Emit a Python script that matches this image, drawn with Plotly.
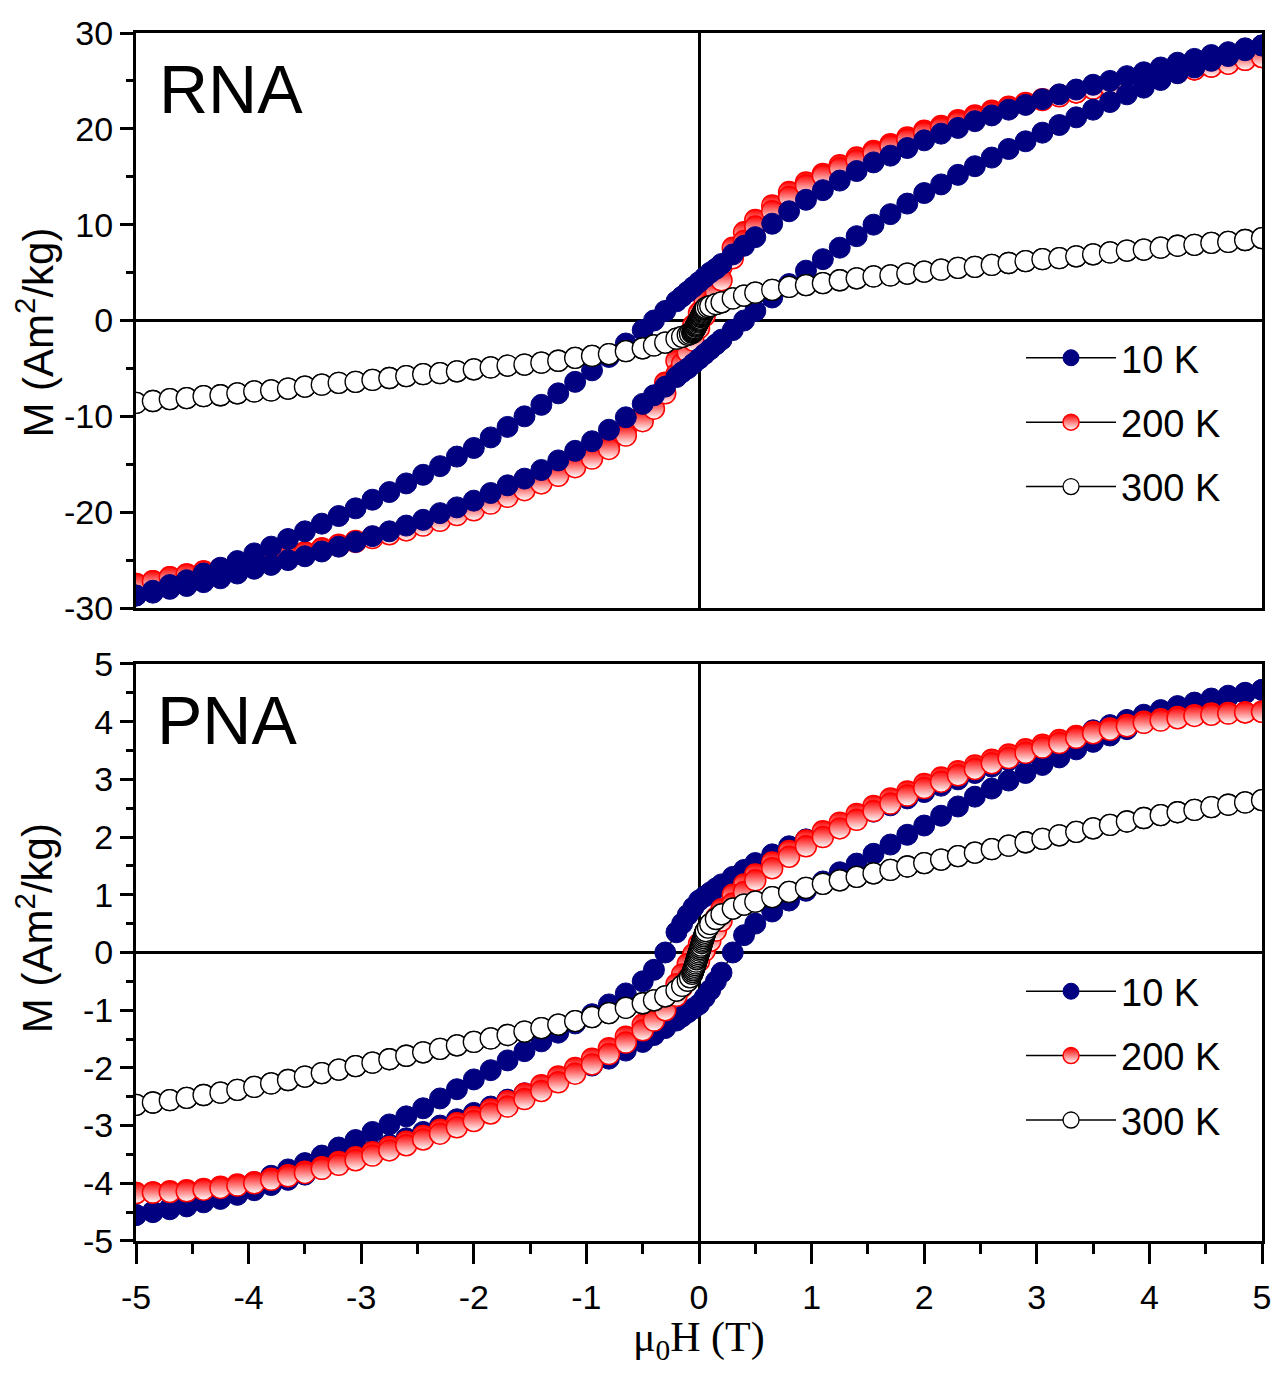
import plotly.graph_objects as go

# ---------------- data ----------------
H_DOWN = [5.0, 4.85, 4.7, 4.55, 4.4, 4.25, 4.1, 3.95, 3.8, 3.65, 3.5, 3.35, 3.2, 3.05, 2.9, 2.75, 2.6, 2.45, 2.3, 2.15,
          2.0, 1.85, 1.7, 1.55, 1.4, 1.25, 1.1, 0.95, 0.8, 0.65, 0.5, 0.4, 0.3, 0.2, 0.15, 0.1, 0.05, 0.0,
          -0.05, -0.1, -0.15, -0.2, -0.3, -0.4, -0.5, -0.65, -0.8, -0.95, -1.1, -1.25, -1.4, -1.55, -1.7, -1.85,
          -2.0, -2.15, -2.3, -2.45, -2.6, -2.75, -2.9, -3.05, -3.2, -3.35, -3.5, -3.65, -3.8, -3.95, -4.1, -4.25,
          -4.4, -4.55, -4.7, -4.85, -5.0]
H_UP = [-5.0, -4.85, -4.7, -4.55, -4.4, -4.25, -4.1, -3.95, -3.8, -3.65, -3.5, -3.35, -3.2, -3.05, -2.9, -2.75, -2.6,
        -2.45, -2.3, -2.15, -2.0, -1.85, -1.7, -1.55, -1.4, -1.25, -1.1, -0.95, -0.8, -0.65, -0.5, -0.4, -0.3, -0.2,
        -0.15, -0.1, -0.05, 0.0, 0.05, 0.1, 0.15, 0.2, 0.3, 0.4, 0.5, 0.65, 0.8, 0.95, 1.1, 1.25, 1.4, 1.55, 1.7,
        1.85, 2.0, 2.15, 2.3, 2.45, 2.6, 2.75, 2.9, 3.05, 3.2, 3.35, 3.5, 3.65, 3.8, 3.95, 4.1, 4.25, 4.4, 4.55,
        4.7, 4.85, 5.0]
# 300 K runs have dense low-field points
H300_DOWN = [5.0, 4.85, 4.7, 4.55, 4.4, 4.25, 4.1, 3.95, 3.8, 3.65, 3.5, 3.35, 3.2, 3.05, 2.9, 2.75, 2.6, 2.45, 2.3,
             2.15, 2.0, 1.85, 1.7, 1.55, 1.4, 1.25, 1.1, 0.95, 0.8, 0.65, 0.5, 0.4, 0.3, 0.2, 0.15, 0.1, 0.08, 0.06,
             0.055, 0.05, 0.045, 0.04, 0.035, 0.03, 0.025, 0.02, 0.015, 0.01, 0.005, 0.0, -0.005, -0.01, -0.015,
             -0.02, -0.025, -0.03, -0.035, -0.04, -0.045, -0.05, -0.055, -0.06, -0.08, -0.1, -0.15, -0.2, -0.3,
             -0.4, -0.5, -0.65, -0.8, -0.95, -1.1, -1.25, -1.4, -1.55, -1.7, -1.85, -2.0, -2.15, -2.3, -2.45, -2.6,
             -2.75, -2.9, -3.05, -3.2, -3.35, -3.5, -3.65, -3.8, -3.95, -4.1, -4.25, -4.4, -4.55, -4.7, -4.85, -5.0]
H300_UP = [-5.0, -4.85, -4.7, -4.55, -4.4, -4.25, -4.1, -3.95, -3.8, -3.65, -3.5, -3.35, -3.2, -3.05, -2.9, -2.75,
           -2.6, -2.45, -2.3, -2.15, -2.0, -1.85, -1.7, -1.55, -1.4, -1.25, -1.1, -0.95, -0.8, -0.65, -0.5, -0.4,
           -0.3, -0.2, -0.15, -0.1, -0.08, -0.06, -0.055, -0.05, -0.045, -0.04, -0.035, -0.03, -0.025, -0.02,
           -0.015, -0.01, -0.005, 0.0, 0.005, 0.01, 0.015, 0.02, 0.025, 0.03, 0.035, 0.04, 0.045, 0.05, 0.055,
           0.06, 0.08, 0.1, 0.15, 0.2, 0.3, 0.4, 0.5, 0.65, 0.8, 0.95, 1.1, 1.25, 1.4, 1.55, 1.7, 1.85, 2.0, 2.15,
           2.3, 2.45, 2.6, 2.75, 2.9, 3.05, 3.2, 3.35, 3.5, 3.65, 3.8, 3.95, 4.1, 4.25, 4.4, 4.55, 4.7, 4.85, 5.0]

# RNA sample
RNA_10K_DOWN = [28.7, 28.4, 28.0, 27.7, 27.3, 26.9, 26.4, 25.9, 25.5, 25.0, 24.6, 24.1, 23.6, 23.1, 22.5, 22.0, 21.4,
                20.8, 20.1, 19.5, 18.8, 18.0, 17.2, 16.5, 15.6, 14.6, 13.6, 12.6, 11.4, 10.1, 8.7, 7.8, 6.9, 5.9, 5.4,
                5.0, 4.5, 4.0, 3.5, 3.0, 2.5, 2.0, 1.0, 0.0, -1.0, -2.4, -3.8, -5.2, -6.4, -7.6, -8.8, -10.0, -11.1,
                -12.2, -13.3, -14.2, -15.2, -16.1, -17.0, -17.9, -18.7, -19.6, -20.4, -21.2, -22.0, -22.8, -23.6,
                -24.3, -25.1, -25.8, -26.4, -27.1, -27.6, -28.2, -28.7]
RNA_10K_UP = [-28.7, -28.4, -28.0, -27.7, -27.3, -26.9, -26.4, -25.9, -25.5, -25.0, -24.6, -24.1, -23.6, -23.1, -22.5,
              -22.0, -21.4, -20.8, -20.1, -19.5, -18.8, -18.0, -17.2, -16.5, -15.6, -14.6, -13.6, -12.6, -11.4, -10.1,
              -8.7, -7.8, -6.9, -5.9, -5.4, -5.0, -4.5, -4.0, -3.5, -3.0, -2.5, -2.0, -1.0, 0.0, 1.0, 2.4, 3.8, 5.2,
              6.4, 7.6, 8.8, 10.0, 11.1, 12.2, 13.3, 14.2, 15.2, 16.1, 17.0, 17.9, 18.7, 19.6, 20.4, 21.2, 22.0, 22.8,
              23.6, 24.3, 25.1, 25.8, 26.4, 27.1, 27.6, 28.2, 28.7]
RNA_200K_DOWN = [27.5, 27.2, 26.8, 26.5, 26.2, 25.9, 25.5, 25.2, 24.9, 24.5, 24.2, 23.8, 23.5, 23.1, 22.7, 22.3, 21.9,
                 21.4, 20.9, 20.3, 19.8, 19.1, 18.4, 17.7, 17.0, 16.2, 15.3, 14.4, 13.4, 12.0, 10.5, 9.2, 7.6, 5.6, 4.5,
                 3.3, 2.1, 0.8, -0.5, -1.7, -3.0, -4.2, -6.5, -8.3, -9.8, -11.4, -12.9, -14.1, -15.1, -15.9, -16.7,
                 -17.5, -18.2, -18.9, -19.6, -20.1, -20.7, -21.2, -21.7, -22.2, -22.6, -23.0, -23.4, -23.8, -24.2,
                 -24.5, -24.9, -25.2, -25.5, -25.9, -26.2, -26.5, -26.8, -27.2, -27.5]
RNA_200K_UP = [-27.5, -27.2, -26.8, -26.5, -26.2, -25.9, -25.5, -25.2, -24.9, -24.5, -24.2, -23.8, -23.5, -23.1, -22.7,
               -22.3, -21.9, -21.4, -20.9, -20.3, -19.8, -19.1, -18.4, -17.7, -17.0, -16.2, -15.3, -14.4, -13.4, -12.0,
               -10.5, -9.2, -7.6, -5.6, -4.5, -3.3, -2.1, -0.8, 0.5, 1.7, 3.0, 4.2, 6.5, 8.3, 9.8, 11.4, 12.9, 14.1,
               15.1, 15.9, 16.7, 17.5, 18.2, 18.9, 19.6, 20.1, 20.7, 21.2, 21.7, 22.2, 22.6, 23.0, 23.4, 23.8, 24.2,
               24.5, 24.9, 25.2, 25.5, 25.9, 26.2, 26.5, 26.8, 27.2, 27.5]
RNA_300K_DOWN = [8.6, 8.4, 8.2, 8.1, 7.9, 7.8, 7.6, 7.4, 7.3, 7.1, 6.9, 6.7, 6.5, 6.4, 6.2, 6.0, 5.8, 5.6, 5.5, 5.3,
                 5.1, 4.9, 4.7, 4.6, 4.4, 4.2, 3.9, 3.7, 3.5, 3.2, 2.9, 2.6, 2.3, 1.9, 1.7, 1.5, 1.4, 1.3, 1.2, 1.1,
                 1.0, 0.9, 0.8, 0.65, 0.55, 0.45, 0.35, 0.2, 0.1, 0.0, -0.1, -0.2, -0.35, -0.45, -0.55, -0.65, -0.8,
                 -0.9, -1.0, -1.1, -1.2, -1.3, -1.4, -1.5, -1.7, -1.9, -2.3, -2.6, -2.9, -3.2, -3.5, -3.7, -3.9, -4.2,
                 -4.4, -4.6, -4.7, -4.9, -5.1, -5.3, -5.5, -5.6, -5.8, -6.0, -6.2, -6.4, -6.5, -6.7, -6.9, -7.1, -7.3,
                 -7.4, -7.6, -7.8, -7.9, -8.1, -8.2, -8.4, -8.6]
RNA_300K_UP = [-8.6, -8.4, -8.2, -8.1, -7.9, -7.8, -7.6, -7.4, -7.3, -7.1, -6.9, -6.7, -6.5, -6.4, -6.2, -6.0, -5.8,
               -5.6, -5.5, -5.3, -5.1, -4.9, -4.7, -4.6, -4.4, -4.2, -3.9, -3.7, -3.5, -3.2, -2.9, -2.6, -2.3, -1.9,
               -1.7, -1.5, -1.4, -1.3, -1.2, -1.1, -1.0, -0.9, -0.8, -0.65, -0.55, -0.45, -0.35, -0.2, -0.1, 0.0, 0.1,
               0.2, 0.35, 0.45, 0.55, 0.65, 0.8, 0.9, 1.0, 1.1, 1.2, 1.3, 1.4, 1.5, 1.7, 1.9, 2.3, 2.6, 2.9, 3.2, 3.5,
               3.7, 3.9, 4.2, 4.4, 4.6, 4.7, 4.9, 5.1, 5.3, 5.5, 5.6, 5.8, 6.0, 6.2, 6.4, 6.5, 6.7, 6.9, 7.1, 7.3, 7.4,
               7.6, 7.8, 7.9, 8.1, 8.2, 8.4, 8.6]

# PNA sample
PNA_10K_DOWN = [4.55, 4.50, 4.45, 4.40, 4.33, 4.27, 4.20, 4.12, 4.03, 3.94, 3.85, 3.75, 3.64, 3.54, 3.43, 3.33, 3.22,
                3.11, 3.00, 2.89, 2.78, 2.67, 2.55, 2.44, 2.32, 2.20, 2.08, 1.96, 1.84, 1.70, 1.55, 1.43, 1.31, 1.18,
                1.11, 1.04, 0.97, 0.90, 0.78, 0.65, 0.50, 0.35, 0.00, -0.30, -0.50, -0.71, -0.90, -1.07, -1.23, -1.39,
                -1.54, -1.71, -1.87, -2.04, -2.20, -2.37, -2.53, -2.70, -2.84, -2.98, -3.11, -3.25, -3.38, -3.52,
                -3.65, -3.76, -3.87, -3.98, -4.09, -4.19, -4.28, -4.37, -4.43, -4.49, -4.55]
PNA_10K_UP = [-4.55, -4.50, -4.45, -4.40, -4.33, -4.27, -4.20, -4.12, -4.03, -3.94, -3.85, -3.75, -3.64, -3.54, -3.43,
              -3.33, -3.22, -3.11, -3.00, -2.89, -2.78, -2.67, -2.55, -2.44, -2.32, -2.20, -2.08, -1.96, -1.84, -1.70,
              -1.55, -1.43, -1.31, -1.18, -1.11, -1.04, -0.97, -0.90, -0.78, -0.65, -0.50, -0.35, 0.00, 0.30, 0.50,
              0.71, 0.90, 1.07, 1.23, 1.39, 1.54, 1.71, 1.87, 2.04, 2.20, 2.37, 2.53, 2.70, 2.84, 2.98, 3.11, 3.25,
              3.38, 3.52, 3.65, 3.76, 3.87, 3.98, 4.09, 4.19, 4.28, 4.37, 4.43, 4.49, 4.55]
PNA_200K_DOWN = [4.17, 4.16, 4.15, 4.14, 4.11, 4.08, 4.04, 4.00, 3.94, 3.88, 3.82, 3.75, 3.68, 3.60, 3.52, 3.43, 3.34,
                 3.24, 3.14, 3.03, 2.92, 2.79, 2.67, 2.54, 2.40, 2.25, 2.10, 1.94, 1.76, 1.56, 1.35, 1.18, 1.00, 0.75,
                 0.60, 0.45, 0.30, 0.15, -0.03, -0.20, -0.38, -0.55, -0.85, -1.05, -1.25, -1.46, -1.66, -1.84, -2.00,
                 -2.15, -2.30, -2.45, -2.58, -2.72, -2.85, -2.96, -3.07, -3.18, -3.28, -3.37, -3.46, -3.55, -3.63,
                 -3.72, -3.80, -3.86, -3.92, -3.98, -4.02, -4.06, -4.10, -4.12, -4.14, -4.16, -4.17]
PNA_200K_UP = [-4.17, -4.16, -4.15, -4.14, -4.11, -4.08, -4.04, -4.00, -3.94, -3.88, -3.82, -3.75, -3.68, -3.60, -3.52,
               -3.43, -3.34, -3.24, -3.14, -3.03, -2.92, -2.79, -2.67, -2.54, -2.40, -2.25, -2.10, -1.94, -1.76, -1.56,
               -1.35, -1.18, -1.00, -0.75, -0.60, -0.45, -0.30, -0.15, 0.03, 0.20, 0.38, 0.55, 0.85, 1.05, 1.25, 1.46,
               1.66, 1.84, 2.00, 2.15, 2.30, 2.45, 2.58, 2.72, 2.85, 2.96, 3.07, 3.18, 3.28, 3.37, 3.46, 3.55, 3.63,
               3.72, 3.80, 3.86, 3.92, 3.98, 4.02, 4.06, 4.10, 4.12, 4.14, 4.16, 4.17]
PNA_300K_DOWN = [2.64, 2.60, 2.56, 2.52, 2.47, 2.43, 2.38, 2.33, 2.27, 2.21, 2.15, 2.09, 2.03, 1.97, 1.91, 1.85, 1.79,
                 1.73, 1.67, 1.61, 1.55, 1.49, 1.43, 1.37, 1.31, 1.25, 1.19, 1.12, 1.05, 0.96, 0.88, 0.83, 0.76, 0.66,
                 0.58, 0.49, 0.43, 0.37, 0.34, 0.31, 0.28, 0.25, 0.22, 0.19, 0.16, 0.12, 0.09, 0.06, 0.03, 0.00,
                 -0.03, -0.06, -0.09, -0.12, -0.16, -0.19, -0.22, -0.25, -0.28, -0.31, -0.34, -0.37, -0.43, -0.49,
                 -0.58, -0.66, -0.76, -0.83, -0.88, -0.96, -1.05, -1.12, -1.19, -1.25, -1.31, -1.37, -1.43, -1.49,
                 -1.55, -1.61, -1.67, -1.73, -1.79, -1.85, -1.91, -1.97, -2.03, -2.09, -2.15, -2.21, -2.27, -2.33,
                 -2.38, -2.43, -2.47, -2.52, -2.56, -2.60, -2.64]
PNA_300K_UP = [-2.64, -2.60, -2.56, -2.52, -2.47, -2.43, -2.38, -2.33, -2.27, -2.21, -2.15, -2.09, -2.03, -1.97, -1.91,
               -1.85, -1.79, -1.73, -1.67, -1.61, -1.55, -1.49, -1.43, -1.37, -1.31, -1.25, -1.19, -1.12, -1.05, -0.96,
               -0.88, -0.83, -0.76, -0.66, -0.58, -0.49, -0.43, -0.37, -0.34, -0.31, -0.28, -0.25, -0.22, -0.19,
               -0.16, -0.12, -0.09, -0.06, -0.03, 0.00, 0.03, 0.06, 0.09, 0.12, 0.16, 0.19, 0.22, 0.25, 0.28, 0.31,
               0.34, 0.37, 0.43, 0.49, 0.58, 0.66, 0.76, 0.83, 0.88, 0.96, 1.05, 1.12, 1.19, 1.25, 1.31, 1.37, 1.43,
               1.49, 1.55, 1.61, 1.67, 1.73, 1.79, 1.85, 1.91, 1.97, 2.03, 2.09, 2.15, 2.21, 2.27, 2.33, 2.38, 2.43,
               2.47, 2.52, 2.56, 2.60, 2.64]

SERIES_NAMES = ["10 K", "200 K", "300 K"]
X_TICKS = [-5, -4, -3, -2, -1, 0, 1, 2, 3, 4, 5]
X_TICKTEXT = ["-5", "-4", "-3", "-2", "-1", "0", "1", "2", "3", "4", "5"]
Y_TOP_TICKS = [-30, -20, -10, 0, 10, 20, 30]
Y_TOP_TICKTEXT = ["-30", "-20", "-10", "0", "10", "20", "30"]
Y_BOT_TICKS = [-5, -4, -3, -2, -1, 0, 1, 2, 3, 4, 5]
Y_BOT_TICKTEXT = ["-5", "-4", "-3", "-2", "-1", "0", "1", "2", "3", "4", "5"]

# ---------------- styling ----------------
NAVY = "#000080"
RED = "#ff0000"
SANS = "Liberation Sans, Arial, sans-serif"
SERIF = "Liberation Serif, Times New Roman, serif"
MS = 21

STYLES = {
    "10 K": dict(color=NAVY, size=MS, line=dict(color=NAVY, width=1)),
    "200 K": dict(color=RED, size=MS, line=dict(color=RED, width=1.5),
                  gradient=dict(type="vertical", color="white")),
    "300 K": dict(color="white", size=MS, line=dict(color="black", width=1.3)),
}
RANK = {"10 K": 1, "200 K": 2, "300 K": 3}

fig = go.Figure()


def add_loop(name, h_down, m_down, h_up, m_up, xa, ya, legend):
    fig.add_trace(go.Scatter(
        x=h_down + h_up, y=m_down + m_up, name=name, mode="lines+markers",
        line=dict(color="black", width=1.5), marker=STYLES[name],
        xaxis=xa, yaxis=ya, legend=legend, legendrank=RANK[name],
        legendgroup=legend + name,
    ))


# top panel (RNA)
add_loop("200 K", H_DOWN, RNA_200K_DOWN, H_UP, RNA_200K_UP, "x2", "y2", "legend")
add_loop("10 K", H_DOWN, RNA_10K_DOWN, H_UP, RNA_10K_UP, "x2", "y2", "legend")
add_loop("300 K", H300_DOWN, RNA_300K_DOWN, H300_UP, RNA_300K_UP, "x2", "y2", "legend")
# bottom panel (PNA)
add_loop("10 K", H_DOWN, PNA_10K_DOWN, H_UP, PNA_10K_UP, "x", "y", "legend2")
add_loop("200 K", H_DOWN, PNA_200K_DOWN, H_UP, PNA_200K_UP, "x", "y", "legend2")
add_loop("300 K", H300_DOWN, PNA_300K_DOWN, H300_UP, PNA_300K_UP, "x", "y", "legend2")

AX = dict(showline=True, linecolor="black", linewidth=3, mirror=True, showgrid=False, automargin=False,
          zeroline=True, zerolinecolor="black", zerolinewidth=2.5,
          tickcolor="black", tickwidth=2.5,
          tickfont=dict(family=SANS, size=34, color="black"))

top_dom = [0.524, 1.0]
bot_dom = [0.0, 0.4777]
LEGEND_FONT = dict(family=SANS, size=38, color="black")

fig.update_layout(
    width=1274, height=1373,
    margin=dict(l=136, r=12, t=33, b=132, autoexpand=False),
    paper_bgcolor="white", plot_bgcolor="white",
    xaxis=dict(AX, range=[-5, 5], anchor="y", domain=[0, 1], ticks="outside", ticklen=20,
               tickmode="array", tickvals=X_TICKS, ticktext=X_TICKTEXT, ticklabelstandoff=4,
               minor=dict(ticks="outside", ticklen=10, tick0=0, dtick=0.5, tickcolor="black", tickwidth=2.5)),
    yaxis=dict(AX, range=[-5, 5], anchor="x", domain=bot_dom, ticks="outside", ticklen=13,
               tickmode="array", tickvals=Y_BOT_TICKS, ticktext=Y_BOT_TICKTEXT,
               minor=dict(ticks="outside", ticklen=7, tick0=0, dtick=0.5, tickcolor="black", tickwidth=2.5)),
    xaxis2=dict(AX, range=[-5, 5], anchor="y2", domain=[0, 1], ticks="", showticklabels=False),
    yaxis2=dict(AX, range=[-30, 30], anchor="x2", domain=top_dom, ticks="outside", ticklen=13,
                tickmode="array", tickvals=Y_TOP_TICKS, ticktext=Y_TOP_TICKTEXT,
                minor=dict(ticks="outside", ticklen=7, tick0=0, dtick=5, tickcolor="black", tickwidth=2.5)),
    legend=dict(x=0.786, y=0.757, xanchor="left", yanchor="top", bgcolor="rgba(0,0,0,0)",
                font=LEGEND_FONT, itemwidth=90, tracegroupgap=12),
    legend2=dict(x=0.786, y=0.2326, xanchor="left", yanchor="top", bgcolor="rgba(0,0,0,0)",
                 font=LEGEND_FONT, itemwidth=90, tracegroupgap=12),
    showlegend=True,
)

fig.add_annotation(text="RNA", xref="paper", yref="paper", x=0.0187, y=0.9536, xanchor="left",
                   yanchor="middle", showarrow=False, font=dict(family=SANS, size=68, color="black"))
fig.add_annotation(text="PNA", xref="paper", yref="paper", x=0.0170, y=0.4313, xanchor="left",
                   yanchor="middle", showarrow=False, font=dict(family=SANS, size=68, color="black"))
fig.add_annotation(text="M (Am<sup>2</sup>/kg)", xref="paper", yref="paper", x=-0.0897, y=0.752,
                   textangle=-90, showarrow=False, xanchor="center", yanchor="middle",
                   font=dict(family=SANS, size=42, color="black"))
fig.add_annotation(text="M (Am<sup>2</sup>/kg)", xref="paper", yref="paper", x=-0.0897, y=0.259,
                   textangle=-90, showarrow=False, xanchor="center", yanchor="middle",
                   font=dict(family=SANS, size=42, color="black"))
fig.add_annotation(text="μ<sub>0</sub>H (T)", xref="paper", yref="paper", x=0.5, y=-0.082,
                   showarrow=False, xanchor="center", yanchor="middle",
                   font=dict(family=SERIF, size=42, color="black"))

fig.write_html("out.html")
